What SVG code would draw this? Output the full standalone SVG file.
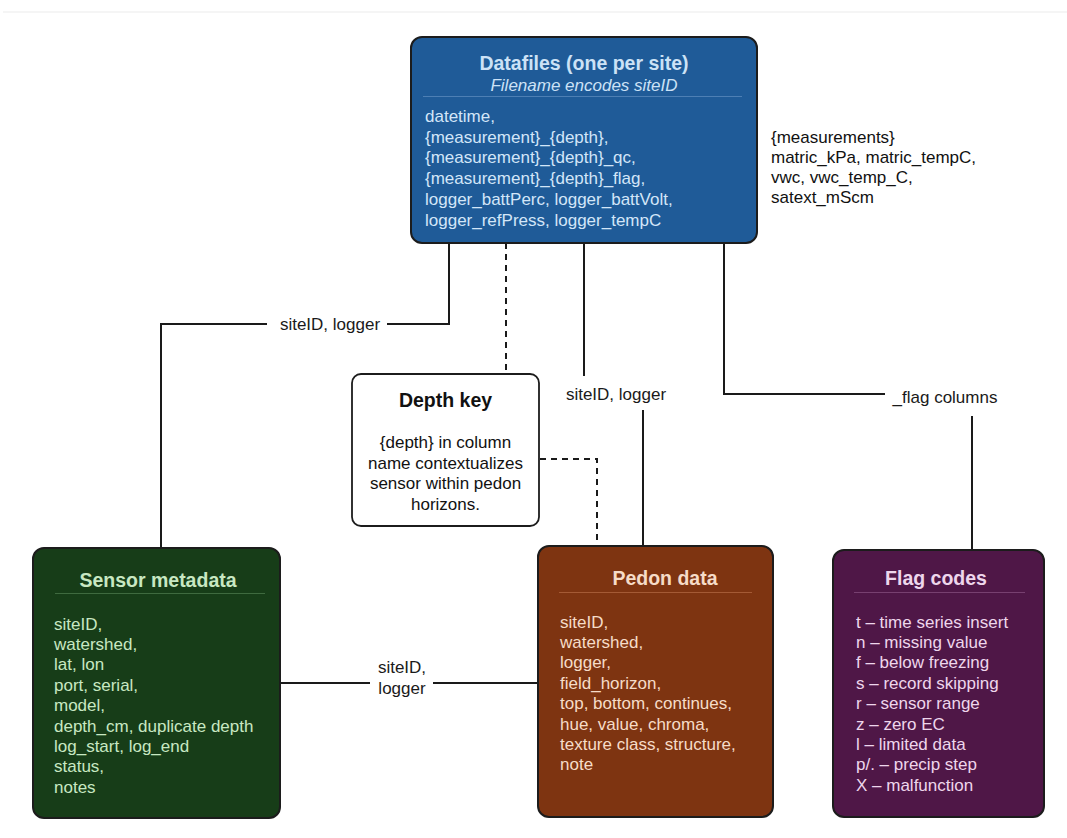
<svg xmlns="http://www.w3.org/2000/svg" width="1067" height="838" viewBox="0 0 1067 838">
<style>
text{font-family:"Liberation Sans",Arial,sans-serif;}
.box{stroke:#1c1c1c;stroke-width:2;}
.title{font-size:19.5px;font-weight:bold;text-anchor:middle;}
.sub{font-size:17px;font-style:italic;text-anchor:middle;}
.body{font-size:17px;}
.lbl{font-size:17px;fill:#1a1a1a;text-anchor:middle;}
.conn{fill:none;stroke:#1a1a1a;stroke-width:2;}
.dash{fill:none;stroke:#1a1a1a;stroke-width:2;stroke-dasharray:6 5;}
.lblbg{fill:#ffffff;}
</style>
<rect width="1067" height="838" fill="#ffffff"/>
<line x1="3" y1="12" x2="1067" y2="12" stroke="#ebebeb" stroke-width="1"/>

<g id="connectors">
  <path class="conn" d="M449,243 V324 H161 V548"/>
  <rect class="lblbg" x="267" y="312" width="120" height="26"/>
  <text class="lbl" x="330" y="330">siteID, logger</text>

  <path class="dash" d="M506,243 V374"/>

  <path class="conn" d="M584,243 V395 H643 V546"/>
  <rect class="lblbg" x="560" y="376" width="114" height="34"/>
  <text class="lbl" x="616" y="400">siteID, logger</text>

  <path class="conn" d="M724,243 V394 H972 V550"/>
  <rect class="lblbg" x="885" y="380" width="120" height="36"/>
  <text class="lbl" x="945" y="403">_flag columns</text>

  <path class="dash" d="M540,459 H597 V546"/>

  <path class="conn" d="M280,683 H538"/>
  <rect class="lblbg" x="370" y="656" width="63" height="44"/>
  <text class="lbl" x="402" y="673">siteID,</text>
  <text class="lbl" x="402" y="694">logger</text>
</g>

<g id="datafiles">
  <rect class="box" x="411" y="37" width="346" height="206" rx="11" fill="#1f5b98"/>
  <text class="title" x="584" y="70" fill="#cce2f6">Datafiles (one per site)</text>
  <text class="sub" x="584" y="91" fill="#cce2f6">Filename encodes siteID</text>
  <line x1="423" y1="96.5" x2="742" y2="96.5" stroke="#4d7fb4" stroke-width="1"/>
  <g class="body" fill="#d3e6f8">
    <text x="425" y="122">datetime,</text>
    <text x="425" y="142.7">{measurement}_{depth},</text>
    <text x="425" y="163.4">{measurement}_{depth}_qc,</text>
    <text x="425" y="184.1">{measurement}_{depth}_flag,</text>
    <text x="425" y="204.8">logger_battPerc, logger_battVolt,</text>
    <text x="425" y="225.5">logger_refPress, logger_tempC</text>
  </g>
</g>

<g id="measurements-note">
  <g class="body" fill="#111111">
    <text x="771" y="143">{measurements}</text>
    <text x="771" y="163">matric_kPa, matric_tempC,</text>
    <text x="771" y="183">vwc, vwc_temp_C,</text>
    <text x="771" y="203">satext_mScm</text>
  </g>
</g>

<g id="depth-key">
  <rect x="352" y="374" width="187" height="152" rx="9" fill="#ffffff" stroke="#1c1c1c" stroke-width="1.8"/>
  <text class="title" x="445.5" y="407" fill="#111111">Depth key</text>
  <g class="body" fill="#111111" text-anchor="middle">
    <text x="445.5" y="448">{depth} in column</text>
    <text x="445.5" y="468.7">name contextualizes</text>
    <text x="445.5" y="489.4">sensor within pedon</text>
    <text x="445.5" y="510">horizons.</text>
  </g>
</g>

<g id="sensor-metadata">
  <rect class="box" x="33" y="548" width="247" height="270" rx="11" fill="#173d18"/>
  <text class="title" x="158" y="587" fill="#c8e8c2">Sensor metadata</text>
  <line x1="55" y1="593.5" x2="265" y2="593.5" stroke="#3f6a3f" stroke-width="1"/>
  <g class="body" fill="#c8e8c2">
    <text x="54" y="629.5">siteID,</text>
    <text x="54" y="649.9">watershed,</text>
    <text x="54" y="670.3">lat, lon</text>
    <text x="54" y="690.7">port, serial,</text>
    <text x="54" y="711.1">model,</text>
    <text x="54" y="731.5">depth_cm, duplicate depth</text>
    <text x="54" y="751.9">log_start, log_end</text>
    <text x="54" y="772.3">status,</text>
    <text x="54" y="792.7">notes</text>
  </g>
</g>

<g id="pedon-data">
  <rect class="box" x="538" y="546" width="235" height="271" rx="11" fill="#7e3411"/>
  <text class="title" x="665" y="585" fill="#f6dcc8">Pedon data</text>
  <line x1="559" y1="592.5" x2="752" y2="592.5" stroke="#a45a35" stroke-width="1"/>
  <g class="body" fill="#f6dcc8">
    <text x="560" y="627.5">siteID,</text>
    <text x="560" y="647.9">watershed,</text>
    <text x="560" y="668.3">logger,</text>
    <text x="560" y="688.7">field_horizon,</text>
    <text x="560" y="709.1">top, bottom, continues,</text>
    <text x="560" y="729.5">hue, value, chroma,</text>
    <text x="560" y="749.9">texture class, structure,</text>
    <text x="560" y="770.3">note</text>
  </g>
</g>

<g id="flag-codes">
  <rect class="box" x="833" y="550" width="211" height="267" rx="11" fill="#4f1747"/>
  <text class="title" x="936" y="585" fill="#eed6ec">Flag codes</text>
  <line x1="854" y1="592.5" x2="1025" y2="592.5" stroke="#774070" stroke-width="1"/>
  <g class="body" fill="#eed6ec">
    <text x="856" y="627.5">t – time series insert</text>
    <text x="856" y="647.9">n – missing value</text>
    <text x="856" y="668.3">f – below freezing</text>
    <text x="856" y="688.7">s – record skipping</text>
    <text x="856" y="709.1">r – sensor range</text>
    <text x="856" y="729.5">z – zero EC</text>
    <text x="856" y="749.9">l – limited data</text>
    <text x="856" y="770.3">p/. – precip step</text>
    <text x="856" y="790.7">X – malfunction</text>
  </g>
</g>
</svg>
